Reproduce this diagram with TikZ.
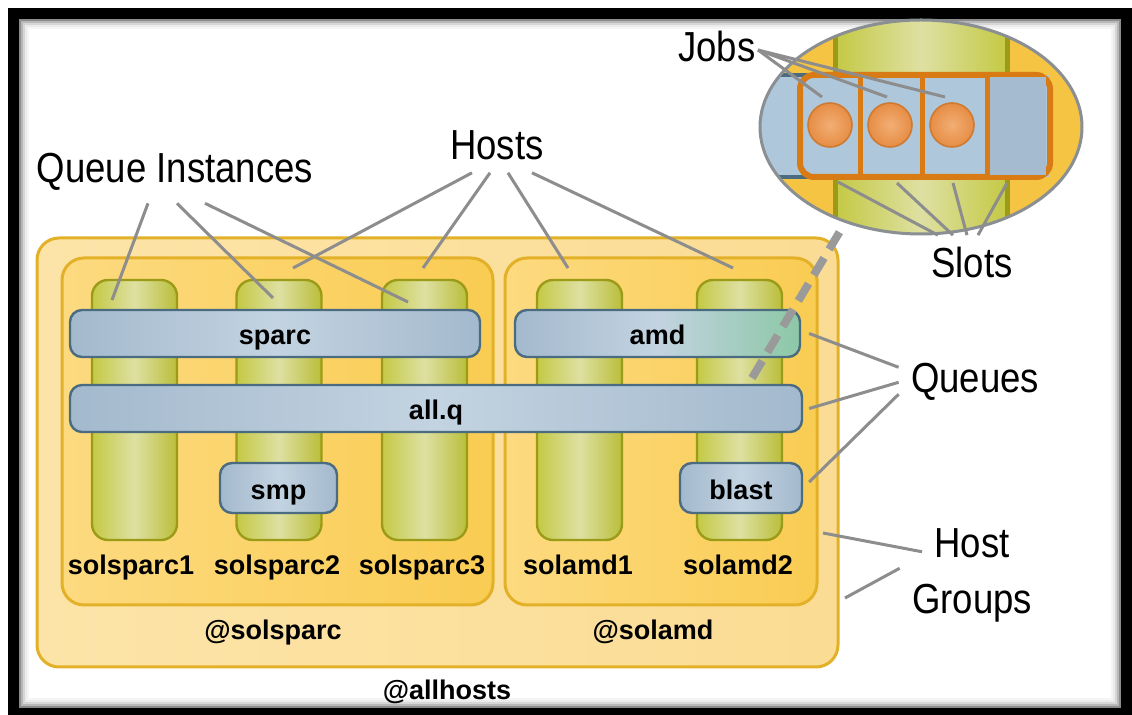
\documentclass[tikz,border=0pt]{standalone}
\usepackage{fontspec}
\setmainfont{Liberation Sans}
\newfontfamily\calloutfont[FakeStretch=0.87]{Liberation Sans}
\usetikzlibrary{shapes.geometric}

\definecolor{grpedge}{HTML}{E3B128}
\definecolor{allfill}{HTML}{FCE4A8}
\definecolor{allfill2}{HTML}{FBDC94}
\definecolor{grpfill}{HTML}{FDDA80}
\definecolor{grpfill2}{HTML}{F9CC52}
\definecolor{coledge}{HTML}{9C9B18}
\definecolor{colgreen}{HTML}{C4C944}
\definecolor{collight}{HTML}{DEE0A2}
\definecolor{barblue}{HTML}{A3B9CD}
\definecolor{barlight}{HTML}{C3D3E1}
\definecolor{baredge}{HTML}{4B6B80}
\definecolor{barteal}{HTML}{8CC8A6}
\definecolor{slotorange}{HTML}{D97B14}
\definecolor{slotblue}{HTML}{AFC7DA}
\definecolor{joborange}{HTML}{E68D45}
\definecolor{jobhi}{HTML}{F2AE74}
\definecolor{jobedge}{HTML}{CF7A2E}
\definecolor{linegray}{HTML}{8D8D8D}
\definecolor{dashgray}{HTML}{9A9A9A}
\definecolor{magyellow}{HTML}{F6C443}
\definecolor{rimgray}{HTML}{8A8F94}

\begin{document}
\begin{tikzpicture}[x=0.5pt, y=-0.5pt,
	callout/.style={draw=linegray, line width=1.5pt},
	calltext/.style={font={\calloutfont\fontsize{21}{28}\selectfont}, anchor=base, inner sep=6pt},
	hostname/.style={font={\bfseries\fontsize{13.5}{16}\selectfont}, anchor=base},
	grpbox/.style={rectangle, rounded corners=11pt, draw=grpedge, line width=1.5pt},
	hostcol/.style={rectangle, rounded corners=8pt, draw=coledge, line width=1.2pt,
		left color=colgreen, right color=colgreen!85!olive, middle color=collight,
		minimum width=42.5pt, minimum height=130pt},
	qbar/.style={rectangle, rounded corners=6pt, draw=baredge, line width=1.2pt,
		left color=barblue, right color=barblue, middle color=barlight,
		minimum height=23.5pt, font={\bfseries\fontsize{13.5}{16}\selectfont},
		text height=11.5pt, text depth=0pt},
	zoomline/.style={draw=dashgray, line width=4pt, dash pattern=on 10pt off 5pt},
	jobdot/.style={circle, inner color=jobhi, outer color=joborange, draw=jobedge,
		line width=0.8pt, minimum size=22pt, inner sep=0pt}]
	\useasboundingbox (0,0) rectangle (1132,715);
	\fill[white] (0,0) rectangle (1132,715);

	% frame
	\fill[black] (8,8) rectangle (1132,715);
	\fill[white] (19,19) rectangle (1121,708);
	\foreach \i/\o in {1/0.45,2/0.28,3/0.16,4/0.08,5/0.04}
		\draw[black, opacity=\o, line width=1pt] (18+2*\i,18+2*\i) rectangle (1122-2*\i,709-2*\i);

	% host groups
	\node[grpbox, left color=allfill, right color=allfill2, minimum width=400.5pt, minimum height=214.5pt] (allhosts) at (437.5,452.5) {};
	\node[grpbox, left color=grpfill, right color=grpfill2, minimum width=215.5pt, minimum height=173.5pt] (solsparcgrp) at (277.5,431.5) {};
	\node[grpbox, left color=grpfill, right color=grpfill2, minimum width=156pt, minimum height=173.5pt] (solamdgrp) at (661,431.5) {};

	% hosts
	\node[hostcol] (solsparc1) at (134.5,410) {};
	\node[hostcol] (solsparc2) at (279,410) {};
	\node[hostcol] (solsparc3) at (424.5,410) {};
	\node[hostcol] (solamd1) at (579.5,410) {};
	\node[hostcol] (solamd2) at (739.5,410) {};

	% queues
	\node[qbar, minimum width=205pt] (sparc) at (275,333.5) {sparc};
	\node[qbar, minimum width=142.5pt, left color=barblue, right color=barteal, middle color=barlight] (amd) at (657.5,333.5) {amd};
	\node[qbar, minimum width=366pt] (allq) at (436,408.5) {all.q};
	\node[qbar, minimum width=58.5pt, minimum height=25pt] (smp) at (278.5,488) {smp};
	\node[qbar, minimum width=61pt, minimum height=25pt] (blast) at (741,488) {blast};

	% names
	\node[hostname] (lbl1) at (131,575) {solsparc1};
	\node[hostname] (lbl2) at (277,575) {solsparc2};
	\node[hostname] (lbl3) at (422,575) {solsparc3};
	\node[hostname] (lbl4) at (578,575) {solamd1};
	\node[hostname] (lbl5) at (738,575) {solamd2};
	\node[hostname] (lblsolsparc) at (273,640) {@solsparc};
	\node[hostname] (lblsolamd) at (653,640) {@solamd};
	\node[hostname] (lblallhosts) at (447,700) {@allhosts};

	% callout texts
	\node[calltext] (qinst) at (175,183) {Queue Instances};
	\node[calltext] (hosts) at (497,160) {Hosts};
	\node[calltext] (jobs) at (717,62) {Jobs};
	\node[calltext] (slots) at (972,278) {Slots};
	\node[calltext] (queues) at (975,393) {Queues};
	\node[calltext] (hostgrp) at (972,558) {Host};
	\node[calltext] (hostgrp2) at (972,614) {Groups};

	% connector ends
	\coordinate (qi1) at (112,300);
	\coordinate (qi2) at (273,298);
	\coordinate (qi3) at (408,302);
	\coordinate (ho1) at (293,268);
	\coordinate (ho2) at (423,268);
	\coordinate (ho3) at (568,268);
	\coordinate (ho4) at (733,268);
	\coordinate (hg1) at (823,533);
	\coordinate (hg2) at (845,598);
	\coordinate (magfoot) at (752,378);
	\coordinate (magtop) at (842,228);

	\draw[callout] ([xshift=-13.5pt]qinst.south) -- (qi1);
	\draw[callout] ([xshift=1pt]qinst.south) -- (qi2);
	\draw[callout] ([xshift=15pt]qinst.south) -- (qi3);
	\draw[callout] ([xshift=-12.5pt]hosts.south) -- (ho1);
	\draw[callout] ([xshift=-3.5pt]hosts.south) -- (ho2);
	\draw[callout] ([xshift=5.5pt]hosts.south) -- (ho3);
	\draw[callout] ([xshift=17.5pt]hosts.south) -- (ho4);
	\draw[callout] ([yshift=7.5pt]queues.west) -- ([xshift=4pt]amd.east);
	\draw[callout] (queues.west) -- ([xshift=3pt]allq.east);
	\draw[callout] ([yshift=-6pt]queues.west) -- ([xshift=3pt,yshift=3pt]blast.east);
	\draw[callout] ([yshift=-4pt]hostgrp.west) -- (hg1);
	\draw[callout] ([yshift=2pt]hostgrp2.north west) -- (hg2);

	\draw[zoomline] (magfoot) -- (magtop);

	% magnified view
	\begin{scope}
		\clip (921,127) ellipse [x radius=80.5pt, y radius=53.5pt];
		\fill[magyellow] (750,10) rectangle (1090,240);
		\fill[left color=colgreen, right color=colgreen, middle color=collight] (835,10) rectangle (1007,240);
		\draw[coledge, line width=2.5pt] (835,10) -- (835,240) (1007,10) -- (1007,240);
		\fill[slotblue] (750,75) rectangle (1050,177);
		\draw[baredge, line width=2pt] (750,75) -- (820,75) (750,177) -- (820,177);
		\draw[slotorange, line width=3pt, fill=slotblue, rounded corners=7pt] (800,75) rectangle (1050,177);
		\fill[barblue!80!slotblue] (988,77) rectangle (1046,175);
		\draw[slotorange, line width=2.5pt] (860,75) -- (860,177) (922,75) -- (922,177) (987,75) -- (987,177);
		\node[jobdot] (job1) at (830,125) {};
		\node[jobdot] (job2) at (890,125) {};
		\node[jobdot] (job3) at (952,125) {};
	\end{scope}
	\node[ellipse, draw=rimgray, line width=1.5pt, minimum width=161pt, minimum height=107pt, inner sep=0pt] (zoomview) at (921,127) {};

	\coordinate (jb1) at (822,97);
	\coordinate (jb2) at (887,97);
	\coordinate (jb3) at (945,97);
	\coordinate (sl1) at (838,182);
	\coordinate (sl2) at (897,183);
	\coordinate (sl3) at (953,183);
	\coordinate (sl4) at (1007,183);
	\draw[callout] ([xshift=-5pt,yshift=-1.5pt]jobs.east) -- (jb1);
	\draw[callout] ([xshift=-5pt,yshift=-1.5pt]jobs.east) -- (jb2);
	\draw[callout] ([xshift=-5pt,yshift=-1.5pt]jobs.east) -- (jb3);
	\draw[callout] ([xshift=-17pt]slots.north) -- (sl1);
	\draw[callout] ([xshift=-9.5pt]slots.north) -- (sl2);
	\draw[callout] ([xshift=-2.5pt]slots.north) -- (sl3);
	\draw[callout] ([xshift=3pt]slots.north) -- (sl4);
\end{tikzpicture}
\end{document}
